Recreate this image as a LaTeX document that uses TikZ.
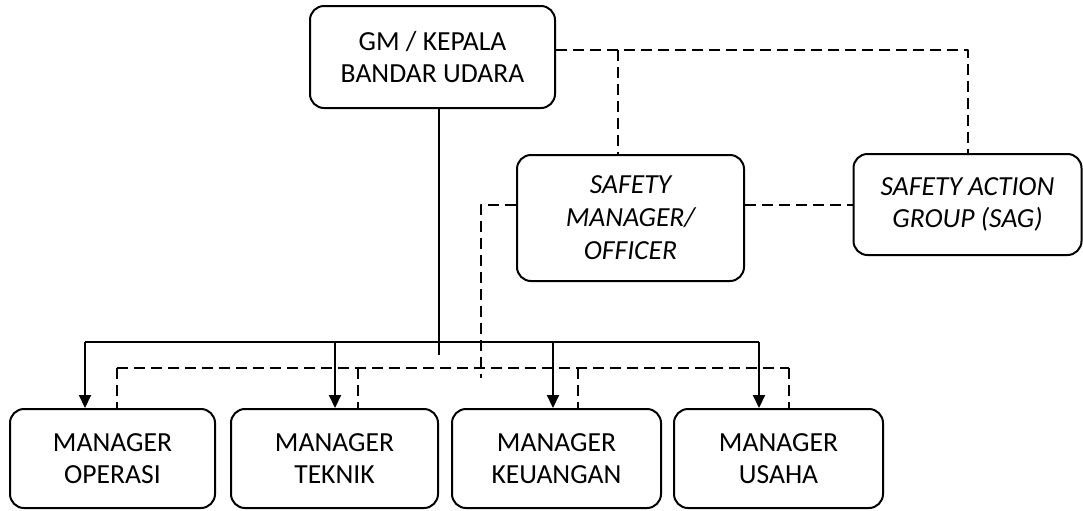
\documentclass[tikz,border=0pt]{standalone}
\usepackage{fontspec}
\setmainfont{Carlito}
\usetikzlibrary{arrows.meta}
\tikzset{
  box/.style={draw, rounded corners=7pt, align=center, inner sep=0pt},
  link/.style={line width=1pt},
  dash link/.style={line width=1pt, dash pattern=on 5.5pt off 3pt},
}
\begin{document}
\begin{tikzpicture}[x=0.5pt, y=-0.5pt, line width=1pt, line join=round, >={Triangle[width=6pt,length=6.5pt]},
  font=\fontsize{13.8}{16}\selectfont]
	\useasboundingbox (0,0) rectangle (1083,510);
	\node[box, minimum width=122.5pt, minimum height=51pt] (gm) at (432.5,57) {GM / KEPALA\\BANDAR UDARA};
	\node[box, minimum width=113.5pt, minimum height=63pt, font=\fontsize{13.8}{16.5}\selectfont\itshape] (sm) at (630.5,218) {SAFETY\\MANAGER/\\OFFICER};
	\node[box, minimum width=114pt, minimum height=50.5pt, font=\fontsize{13.8}{16}\selectfont\itshape] (sag) at (967.5,204.5) {SAFETY ACTION\\GROUP (SAG)};
	\foreach \n/\x/\w/\t in {op/112.5/205/OPERASI, tk/334.5/207/TEKNIK, ku/556.5/209/KEUANGAN, us/778.5/209/USAHA}
		\node[box, minimum width=\w*0.5pt, minimum height=49.5pt] (\n) at (\x,458.5) {MANAGER\\\t};
	\path
	(439,342) coordinate (bus)
	(439,355) coordinate (trunk)
	(968,50) coordinate (tr)
	(618,50) coordinate (tl)
	(481,378) coordinate (dl)
	;
	% garis komando
	\draw[link] (trunk |- gm.south) -- (trunk);
	\draw[link] (85,342) -- (759,342);
	\foreach \n/\a in {op/85, tk/335, ku/553, us/759}
		\draw[link, ->] (\a,342) coordinate (a\n) -- (a\n |- \n.north);
	% garis koordinasi
	\draw[dash link] (gm.east |- tr) -| (sag.north);
	\draw[dash link] (tl) -- (tl |- sm.north);
	\draw[dash link] (sm.east |- sag.west) -- (sag.west);
	\draw[dash link] (sm.west |- sag.west) -| (dl);
	\draw[dash link] (117,368) -- (789,368);
	\foreach \n/\d in {op/117, tk/358, ku/578, us/789}
		\draw[dash link] (\d,368) coordinate (d\n) -- (d\n |- \n.north);
\end{tikzpicture}
\end{document}
